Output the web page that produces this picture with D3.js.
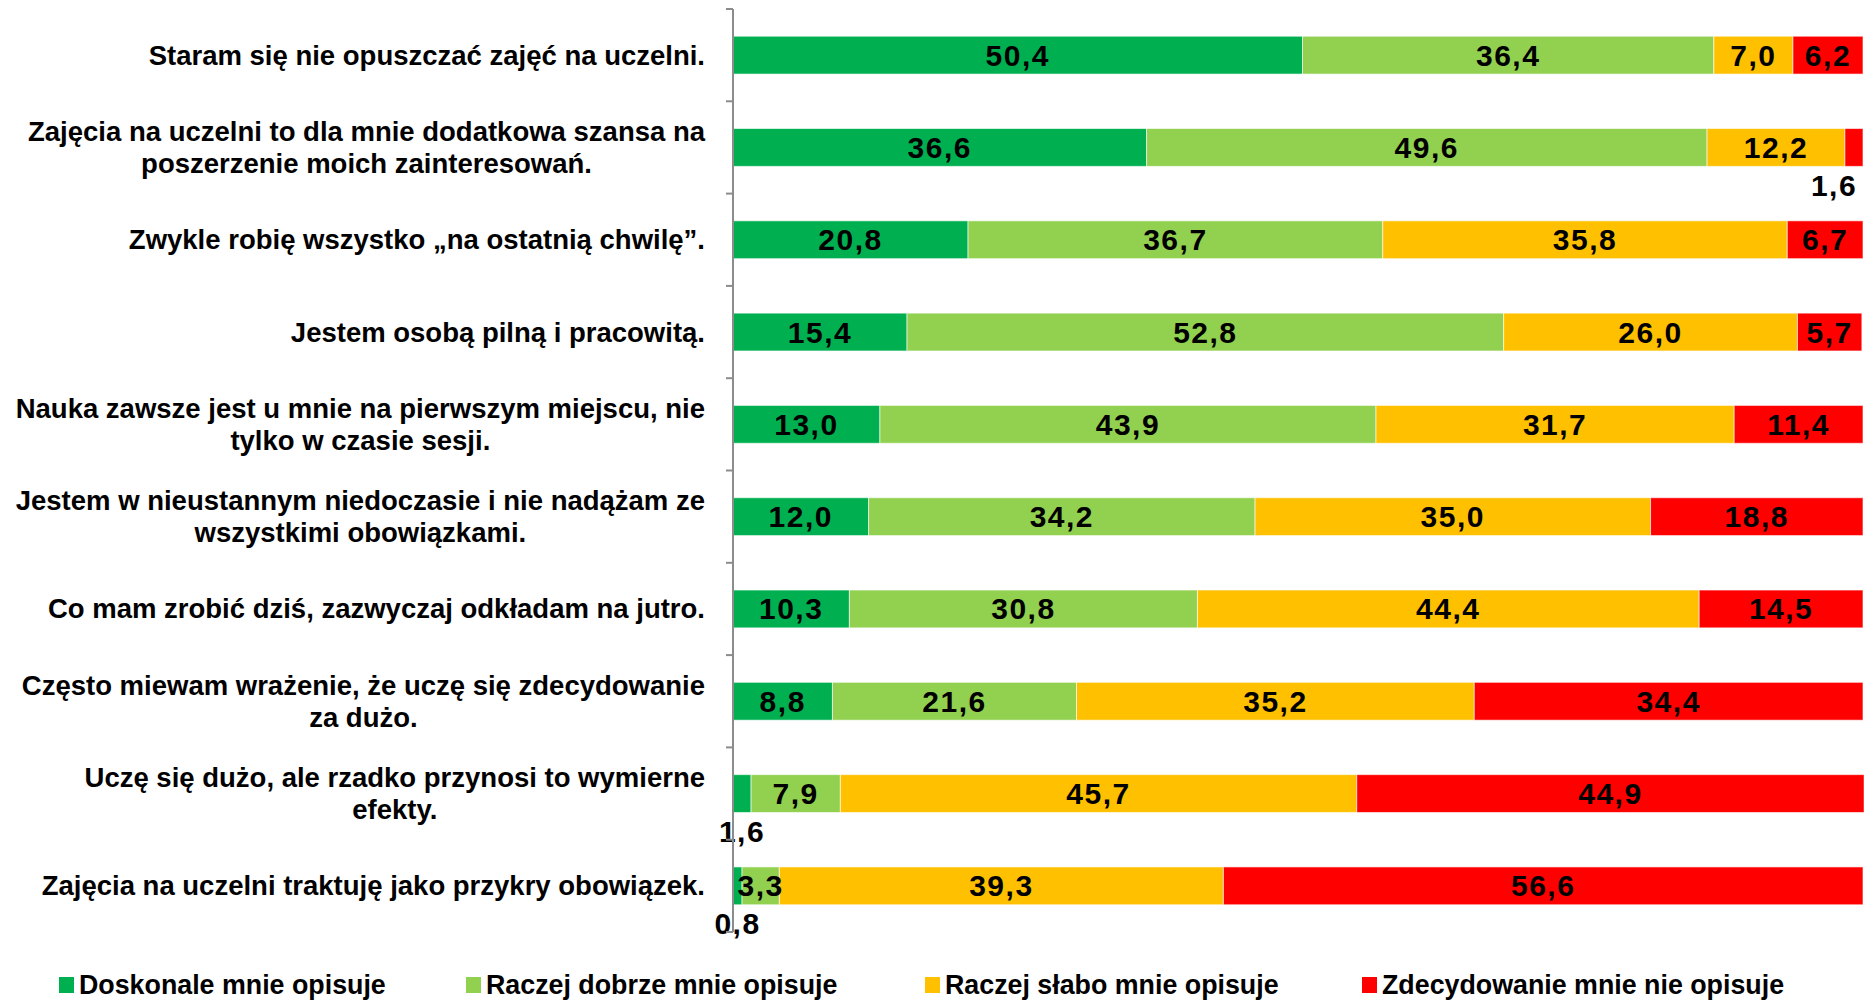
<!DOCTYPE html>
<html>
<head>
<meta charset="utf-8">
<script src="https://cdn.jsdelivr.net/npm/d3@7"></script>
<style>
    body { margin: 0; background: #fff; }
    text { font-family: "Liberation Sans", Arial, sans-serif; }
</style>
</head>
<body>
<div id="chart"></div>
<script>
// categories (each entry = lines of the label)
var categories = [
    ["Staram się nie opuszczać zajęć na uczelni."],
    ["Zajęcia na uczelni to dla mnie dodatkowa szansa na", "poszerzenie moich zainteresowań."],
    ["Zwykle robię wszystko „na ostatnią chwilę”."],
    ["Jestem osobą pilną i pracowitą."],
    ["Nauka zawsze jest u mnie na pierwszym miejscu, nie", "tylko w czasie sesji."],
    ["Jestem w nieustannym niedoczasie i nie nadążam ze", "wszystkimi obowiązkami."],
    ["Co mam zrobić dziś, zazwyczaj odkładam na jutro."],
    ["Często miewam wrażenie, że uczę się zdecydowanie", "za dużo."],
    ["Uczę się dużo, ale rzadko przynosi to wymierne", "efekty."],
    ["Zajęcia na uczelni traktuję jako przykry obowiązek."]
];

var seriesNames = ["Doskonale mnie opisuje", "Raczej dobrze mnie opisuje", "Raczej słabo mnie opisuje", "Zdecydowanie mnie nie opisuje"];
var seriesColors = ["#00B050", "#92D050", "#FFC000", "#FF0000"];

var doskonale = [50.4, 36.6, 20.8, 15.4, 13.0, 12.0, 10.3, 8.8, 1.6, 0.8];
var raczejDobrze = [36.4, 49.6, 36.7, 52.8, 43.9, 34.2, 30.8, 21.6, 7.9, 3.3];
var raczejSlabo = [7.0, 12.2, 35.8, 26.0, 31.7, 35.0, 44.4, 35.2, 45.7, 39.3];
var zdecydowanie = [6.2, 1.6, 6.7, 5.7, 11.4, 18.8, 14.5, 34.4, 44.9, 56.6];

var W = 1864, H = 1001;
var plotLeft = 733, plotRight = 1863, plotTop = 9, plotBottom = 932;

var rows = categories.map(function (c, i) {
    return { i: i, vals: [doskonale[i], raczejDobrze[i], raczejSlabo[i], zdecydowanie[i]] };
});

var x = d3.scaleLinear().domain([0, 100]).range([plotLeft, plotRight]);
var y = d3.scaleBand().domain(d3.range(categories.length)).range([plotTop, plotBottom]).paddingInner(0.59).paddingOuter(0.295);

var svg = d3.select("#chart").append("svg")
    .attr("width", W)
    .attr("height", H);

var defs = svg.append("defs");
defs.append("clipPath").attr("id", "plotclip")
    .append("rect").attr("x", plotLeft).attr("y", 0).attr("width", plotRight - plotLeft + 1).attr("height", H);

// bars
var segs = [];
rows.forEach(function (r) {
    var acc = 0;
    r.vals.forEach(function (v, k) {
        segs.push({ row: r.i, k: k, v: v, x0: acc, x1: acc + v });
        acc += v;
    });
});

svg.append("g").attr("clip-path", "url(#plotclip)")
    .selectAll("rect")
    .data(segs)
    .join("rect")
    .attr("x", d => x(d.x0))
    .attr("y", d => y(d.row))
    .attr("width", d => x(d.x1) - x(d.x0))
    .attr("height", y.bandwidth())
    .attr("fill", d => seriesColors[d.k])
    .attr("stroke", "#ffffff")
    .attr("stroke-opacity", 0.6)
    .attr("stroke-width", 1);

// value labels (tiny segments get their label under the bar)
var fmt = v => v.toFixed(1).replace(".", ",");
svg.append("g").selectAll("text")
    .data(segs)
    .join("text")
    .attr("x", function (d) {
        var cx = (x(d.x0) + x(d.x1)) / 2;
        return Math.min(cx, plotRight - 29);
    })
    .attr("y", function (d) {
        var cy = y(d.row) + y.bandwidth() / 2;
        return d.v < 2 ? cy + 38 : cy;
    })
    .attr("text-anchor", "middle")
    .attr("dominant-baseline", "central")
    .style("font-size", "30px")
    .style("font-weight", "bold")
    .style("letter-spacing", "1.5px")
    .style("fill", "#000")
    .text(d => fmt(d.v));

// y axis line and ticks
var axisG = svg.append("g");
axisG.append("line")
    .attr("x1", plotLeft).attr("x2", plotLeft)
    .attr("y1", plotTop).attr("y2", plotBottom)
    .attr("stroke", "#8c8c8c").attr("stroke-width", 2);
var tickY = d3.range(categories.length + 1).map(i => plotTop + i * y.step());
axisG.selectAll(".tick")
    .data(tickY)
    .join("line")
    .attr("class", "tick")
    .attr("x1", plotLeft - 7).attr("x2", plotLeft)
    .attr("y1", d => d).attr("y2", d => d)
    .attr("stroke", "#8c8c8c").attr("stroke-width", 2);

// category labels: block right-aligned, lines centered
var labelRight = 705, lineH = 32;
var labG = svg.append("g");
categories.forEach(function (lines, i) {
    var cy = y(i) + y.bandwidth() / 2;
    var g = labG.append("g");
    var texts = lines.map(function (s, j) {
        return g.append("text")
            .attr("y", cy + (j - (lines.length - 1) / 2) * lineH)
            .attr("text-anchor", "middle")
            .attr("dominant-baseline", "central")
            .style("font-size", "27.5px")
            .style("font-weight", "bold")
            .style("fill", "#000")
            .text(s);
    });
    var maxW = d3.max(texts, t => t.node().getComputedTextLength());
    texts.forEach(t => t.attr("x", labelRight - maxW / 2));
});

// legend
var legendX = [59, 466, 925, 1362];
var legend = svg.append("g").selectAll("g")
    .data(seriesNames)
    .join("g")
    .attr("transform", (d, i) => "translate(" + legendX[i] + ",985)");
legend.append("rect")
    .attr("x", 0).attr("y", -8)
    .attr("width", 15).attr("height", 16)
    .attr("fill", (d, i) => seriesColors[i]);
legend.append("text")
    .attr("x", 20)
    .attr("dominant-baseline", "central")
    .style("font-size", "26.8px")
    .style("font-weight", "bold")
    .style("fill", "#000")
    .text(d => d);
</script>
</body>
</html>
